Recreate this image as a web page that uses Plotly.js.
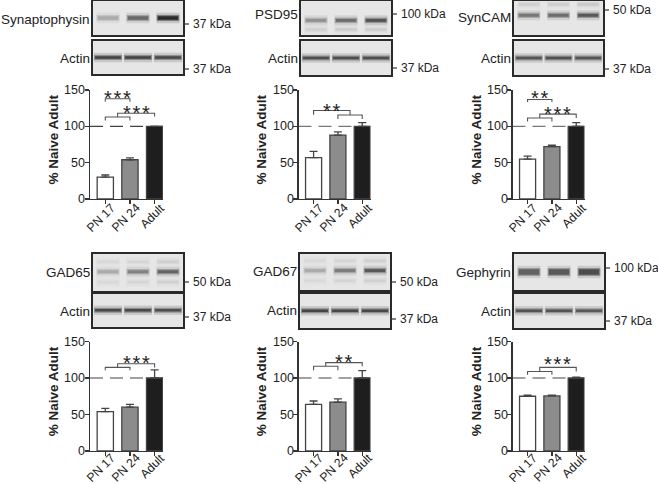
<!DOCTYPE html>
<html><head><meta charset="utf-8">
<script src="https://cdn.plot.ly/plotly-3.0.1.min.js"></script>
<style>html,body{margin:0;padding:0;background:#fff;}#chart{width:658px;height:484px;}</style>
</head><body><div id="chart"></div>
<script>
// ---------------- data ----------------
const groups = ['PN 17', 'PN 24', 'Adult'];
const proteins = ['Synaptophysin', 'PSD95', 'SynCAM', 'GAD65', 'GAD67', 'Gephyrin'];
const meanSynaptophysin = [30, 54, 100];
const semSynaptophysin = [3, 2.5, 0];
const meanPSD95 = [57, 88, 100];
const semPSD95 = [8.5, 4.5, 5];
const meanSynCAM = [55, 72, 100];
const semSynCAM = [4, 2, 5];
const meanGAD65 = [54, 60, 100];
const semGAD65 = [4.5, 4, 11];
const meanGAD67 = [64, 67, 100];
const semGAD67 = [4.5, 4.5, 10];
const meanGephyrin = [75, 75.5, 100];
const semGephyrin = [1.5, 1, 1];
const yTicks = [0, 50, 100, 150];
const yTitle = '% Naive Adult';
const referenceLevel = 100;
const markerKDa = ['37 kDa', '100 kDa', '50 kDa', '50 kDa', '50 kDa', '100 kDa'];
const actinLabel = 'Actin';
const actinKDa = '37 kDa';
const starsPair = ['***', null, '**', null, null, null];
const starsGroup = ['***', '**', '***', '***', '**', '***'];
// blot band darkness per lane (0 = blank, 1 = black)
const bandSynaptophysin = [0.3, 0.62, 0.92];
const bandPSD95 = [0.42, 0.6, 0.72];
const bandSynCAM = [0.55, 0.6, 0.7];
const bandGAD65 = [0.3, 0.5, 0.65];
const bandGAD67 = [0.3, 0.52, 0.7];
const bandGephyrin = [0.66, 0.7, 0.76];
const faintPSD95 = [0.12, 0.14, 0.14];
const faintSynCAM = [0.12, 0.14, 0.16];
const faintGAD65 = [0.08, 0.1, 0.12];
const faintGAD67 = [0.08, 0.1, 0.12];
const actinSynaptophysin = [0.8, 0.8, 0.78];
const actinPSD95 = [0.75, 0.75, 0.75];
const actinSynCAM = [0.72, 0.74, 0.72];
const actinGAD65 = [0.78, 0.78, 0.75];
const actinGAD67 = [0.8, 0.78, 0.78];
const actinGephyrin = [0.72, 0.72, 0.7];

const means = [meanSynaptophysin, meanPSD95, meanSynCAM, meanGAD65, meanGAD67, meanGephyrin];
const sems = [semSynaptophysin, semPSD95, semSynCAM, semGAD65, semGAD67, semGephyrin];
const bands = [bandSynaptophysin, bandPSD95, bandSynCAM, bandGAD65, bandGAD67, bandGephyrin];
const faints = [null, faintPSD95, faintSynCAM, faintGAD65, faintGAD67, null];
const actins = [actinSynaptophysin, actinPSD95, actinSynCAM, actinGAD65, actinGAD67, actinGephyrin];

// ---------------- geometry / style ----------------
const W = 658, H = 484;
const FONT = 'Liberation Sans, Arial, Helvetica, sans-serif';
const INK = '#222';
const px = v => v / W;
const py = v => 1 - v / H;
const barCols = [[90, 163], [298.5, 370.5], [512.5, 584.5]];
const barRows = [[90, 199], [341.5, 451]];
const labelTop = [199.5, 449.5];
const xRange = [-0.62, 2.34];
const blots = [
  {x: [93, 183], main: [1, 35], act: [41, 74], lab: 20, actLab: 58, mk: 24, actMk: 69, bandY: 0.5, bandW: 3.5, faintY: []},
  {x: [301, 391], main: [1, 35], act: [41, 75], lab: 15, actLab: 58, mk: 14, actMk: 68, bandY: 0.57, bandW: 3, faintY: [0.84]},
  {x: [514, 603], main: [1, 35], act: [41, 75], lab: 17, actLab: 58, mk: 10, actMk: 69, bandY: 0.42, bandW: 3, faintY: [0.1]},
  {x: [93, 183], main: [254, 291], act: [293.5, 327], lab: 272, actLab: 311, mk: 282, actMk: 317, bandY: 0.48, bandW: 3, faintY: [0.21, 0.76]},
  {x: [300, 390], main: [254, 290], act: [293.5, 328], lab: 271, actLab: 310, mk: 282, actMk: 319, bandY: 0.46, bandW: 3, faintY: [0.19, 0.74]},
  {x: [514, 604], main: [254, 290], act: [293.5, 328], lab: 272, actLab: 311, mk: 268, actMk: 321, bandY: 0.5, bandW: 5.5, faintY: []}
];
const titleX = [53, 261, 476];
const brackets = [
  {pair: {y: 138, leg: 134, star: 147}, combo: {low: 112.8, lowLeg: 108, up: 118, adultLeg: 113.6, star: 126}},
  {rev: {up: 121.8, leftLeg: 116, low: 115.5, lowLeg: 110, star: 129}},
  {pair: {y: 137, leg: 133.6, star: 147}, combo: {low: 111.4, lowLeg: 106.8, up: 116.8, adultLeg: 111.4, star: 125}},
  {combo: {low: 114.5, lowLeg: 110.5, up: 119.5, adultLeg: 114.5, star: 128}},
  {combo: {low: 116, lowLeg: 110.5, up: 121, adultLeg: 116, star: 129.5}},
  {combo: {low: 109, lowLeg: 104.5, up: 114.5, adultLeg: 109, star: 126.5}}
];
const barFill = ['#ffffff', '#8c8c8c', '#1e1e1e'];
const grey = I => { const g = Math.round(232 - 205 * I); return `rgb(${g},${g},${g})`; };
const spaced = s => s.split('').join('\u200A');

const data = [];
const layout = {
  width: W, height: H, margin: {l: 0, r: 0, t: 0, b: 0},
  paper_bgcolor: '#fff', plot_bgcolor: 'rgba(0,0,0,0)', showlegend: false,
  font: {family: FONT, color: INK, size: 12},
  shapes: [], annotations: []
};
const ax = (i, k) => (i === 1 ? k : k + i);

proteins.forEach((p, idx) => {
  const n = idx + 1;
  const r = Math.floor(idx / 3);
  const col = barCols[idx % 3], row = barRows[r];
  const xa = ax(n, 'x'), ya = ax(n, 'y');
  layout[ax(n, 'xaxis')] = {
    domain: [px(col[0]), px(col[1])], anchor: ya, range: xRange,
    tickvals: [0, 1, 2], ticks: 'outside', ticklen: 4, showticklabels: false,
    tickcolor: '#333', tickwidth: 1.2, showline: true, linecolor: '#333', linewidth: 1.3,
    showgrid: false, zeroline: false, fixedrange: true
  };
  layout[ax(n, 'yaxis')] = {
    domain: [py(row[1]), py(row[0])], anchor: xa, range: [0, 150],
    tickvals: yTicks, ticks: 'outside', ticklen: 4, tickcolor: '#333', tickwidth: 1.2, showticklabels: false,
    showline: true, linecolor: '#333', linewidth: 1.3, showgrid: false, zeroline: false, fixedrange: true
  };
  // tick labels and axis title as text placed through the axes
  groups.forEach((g, i) => layout.annotations.push({xref: xa, yref: 'paper', x: i, y: py(labelTop[r]),
    xshift: 14, text: g, showarrow: false, textangle: -45, xanchor: 'right', yanchor: 'top',
    borderpad: 0, font: {size: 12.2, color: INK}}));
  yTicks.forEach(t => layout.annotations.push({xref: 'paper', yref: ya, x: px(col[0] - 3), y: t,
    text: String(t), showarrow: false, xanchor: 'right', yanchor: 'middle', height: 14,
    font: {size: 12.5, color: INK}}));
  layout.annotations.push({xref: 'paper', yref: 'paper', x: px(titleX[idx % 3]), y: py((row[0] + row[1]) / 2 - 5),
    text: '<b>' + yTitle + '</b>', showarrow: false, textangle: -90, xanchor: 'center', yanchor: 'middle',
    font: {size: 13.5, color: INK}});

  data.push({
    type: 'bar', x: [0, 1, 2], y: means[idx], xaxis: xa, yaxis: ya, width: 0.66,
    marker: {color: barFill, line: {color: '#444', width: 1.3}},
    error_y: {type: 'data', symmetric: false, array: sems[idx], arrayminus: [0, 0, 0],
      color: '#444', thickness: 1.3, width: 4},
    hoverinfo: 'skip'
  });
  // reference dashed line
  layout.shapes.push({type: 'line', xref: xa, yref: ya, x0: xRange[0], x1: xRange[1],
    y0: referenceLevel, y1: referenceLevel, layer: 'below',
    line: {color: idx === 1 || idx === 2 ? '#777' : '#444', width: 1.2, dash: '13px,7px'}});
  // significance brackets
  const b = brackets[idx];
  const path = s => ({type: 'path', xref: xa, yref: ya, path: s, line: {color: '#555', width: 1.1}});
  const star = (x, y, t) => layout.annotations.push({xref: xa, yref: ya, x: x, y: y - 1, text: spaced(t),
    showarrow: false, xanchor: 'center', yanchor: 'middle', height: 12, valign: 'top', borderpad: 0,
    font: {size: 20, color: INK}});
  if (b.pair) {
    layout.shapes.push(path(`M0,${b.pair.leg} L0,${b.pair.y} L1,${b.pair.y} L1,${b.pair.leg}`));
    star(0.5, b.pair.star, starsPair[idx]);
  }
  if (b.combo) {
    const c = b.combo;
    layout.shapes.push(path(`M0,${c.lowLeg} L0,${c.low} L1,${c.low} L1,${c.lowLeg}`));
    layout.shapes.push(path(`M0.5,${c.low} L0.5,${c.up} L2,${c.up} L2,${c.adultLeg}`));
    star(1.25, c.star, starsGroup[idx]);
  }
  if (b.rev) {
    const c = b.rev;
    layout.shapes.push(path(`M0,${c.leftLeg} L0,${c.up} L1.5,${c.up} L1.5,${c.low}`));
    layout.shapes.push(path(`M1,${c.lowLeg} L1,${c.low} L2,${c.low} L2,${c.lowLeg}`));
    star(0.75, c.star, starsGroup[idx]);
  }

  // ---- blots ----
  const bl = blots[idx];
  const boxes = [
    {n: 7 + idx, y: bl.main, label: p, labY: bl.lab, mk: markerKDa[idx], mkY: bl.mk},
    {n: 13 + idx, y: bl.act, label: actinLabel, labY: bl.actLab, mk: actinKDa, mkY: bl.actMk}
  ];
  boxes.forEach((bx, j) => {
    const bxa = ax(bx.n, 'x'), bya = ax(bx.n, 'y');
    layout[ax(bx.n, 'xaxis')] = {domain: [px(bl.x[0]), px(bl.x[1])], anchor: bya, range: [0, 3],
      showline: true, mirror: true, linecolor: '#2a2a2a', linewidth: 1.6, showticklabels: false,
      ticks: '', showgrid: false, zeroline: false, fixedrange: true};
    layout[ax(bx.n, 'yaxis')] = {domain: [py(bx.y[1]), py(bx.y[0])], anchor: bxa, range: [1, 0],
      showline: true, mirror: true, linecolor: '#2a2a2a', linewidth: 1.6, showticklabels: false,
      ticks: '', showgrid: false, zeroline: false, fixedrange: true};
    layout.shapes.push({type: 'rect', xref: bxa + ' domain', yref: bya + ' domain', x0: 0, x1: 1, y0: 0, y1: 1,
      fillcolor: '#e6e6e6', line: {width: 0}, layer: 'below'});
    const addBand = (lane, yPos, I, w, span) => {
      const xs = [lane + 0.5 - span, lane + 0.5 + span];
      data.push({type: 'scatter', mode: 'lines', x: xs, y: [yPos, yPos], xaxis: bxa, yaxis: bya,
        line: {color: grey(I), width: w + 7}, opacity: 0.18, hoverinfo: 'skip'});
      data.push({type: 'scatter', mode: 'lines', x: xs, y: [yPos, yPos], xaxis: bxa, yaxis: bya,
        line: {color: grey(I), width: w + 2.5}, opacity: 0.45, hoverinfo: 'skip'});
      data.push({type: 'scatter', mode: 'lines', x: [xs[0] + 0.04, xs[1] - 0.04], y: [yPos, yPos], xaxis: bxa, yaxis: bya,
        line: {color: grey(I), width: w}, hoverinfo: 'skip'});
    };
    if (j === 0) {
      bands[idx].forEach((I, lane) => addBand(lane, bl.bandY, I, bl.bandW, 0.38));
      if (faints[idx]) bl.faintY.forEach(fy => faints[idx].forEach((I, lane) => addBand(lane, fy, I, 2, 0.38)));
    } else {
      actins[idx].forEach((I, lane) => addBand(lane, 0.5, I, 2.6, 0.47));
    }
    layout.annotations.push({xref: 'paper', yref: 'paper', x: px(bl.x[0] - 1.5), y: py(bx.labY),
      text: bx.label, showarrow: false, xanchor: 'right', yanchor: 'middle', font: {size: 13.5, color: INK}});
    layout.shapes.push({type: 'line', xref: 'paper', yref: 'paper', x0: px(bl.x[1]), x1: px(bl.x[1] + 6),
      y0: py(bx.mkY), y1: py(bx.mkY), line: {color: '#333', width: 1.2}});
    layout.annotations.push({xref: 'paper', yref: 'paper', x: px(bl.x[1] + 8), y: py(bx.mkY),
      text: bx.mk, showarrow: false, xanchor: 'left', yanchor: 'middle', font: {size: 12, color: INK}});
  });
});

Plotly.newPlot('chart', data, layout, {displayModeBar: false, staticPlot: true});
</script></body></html>
